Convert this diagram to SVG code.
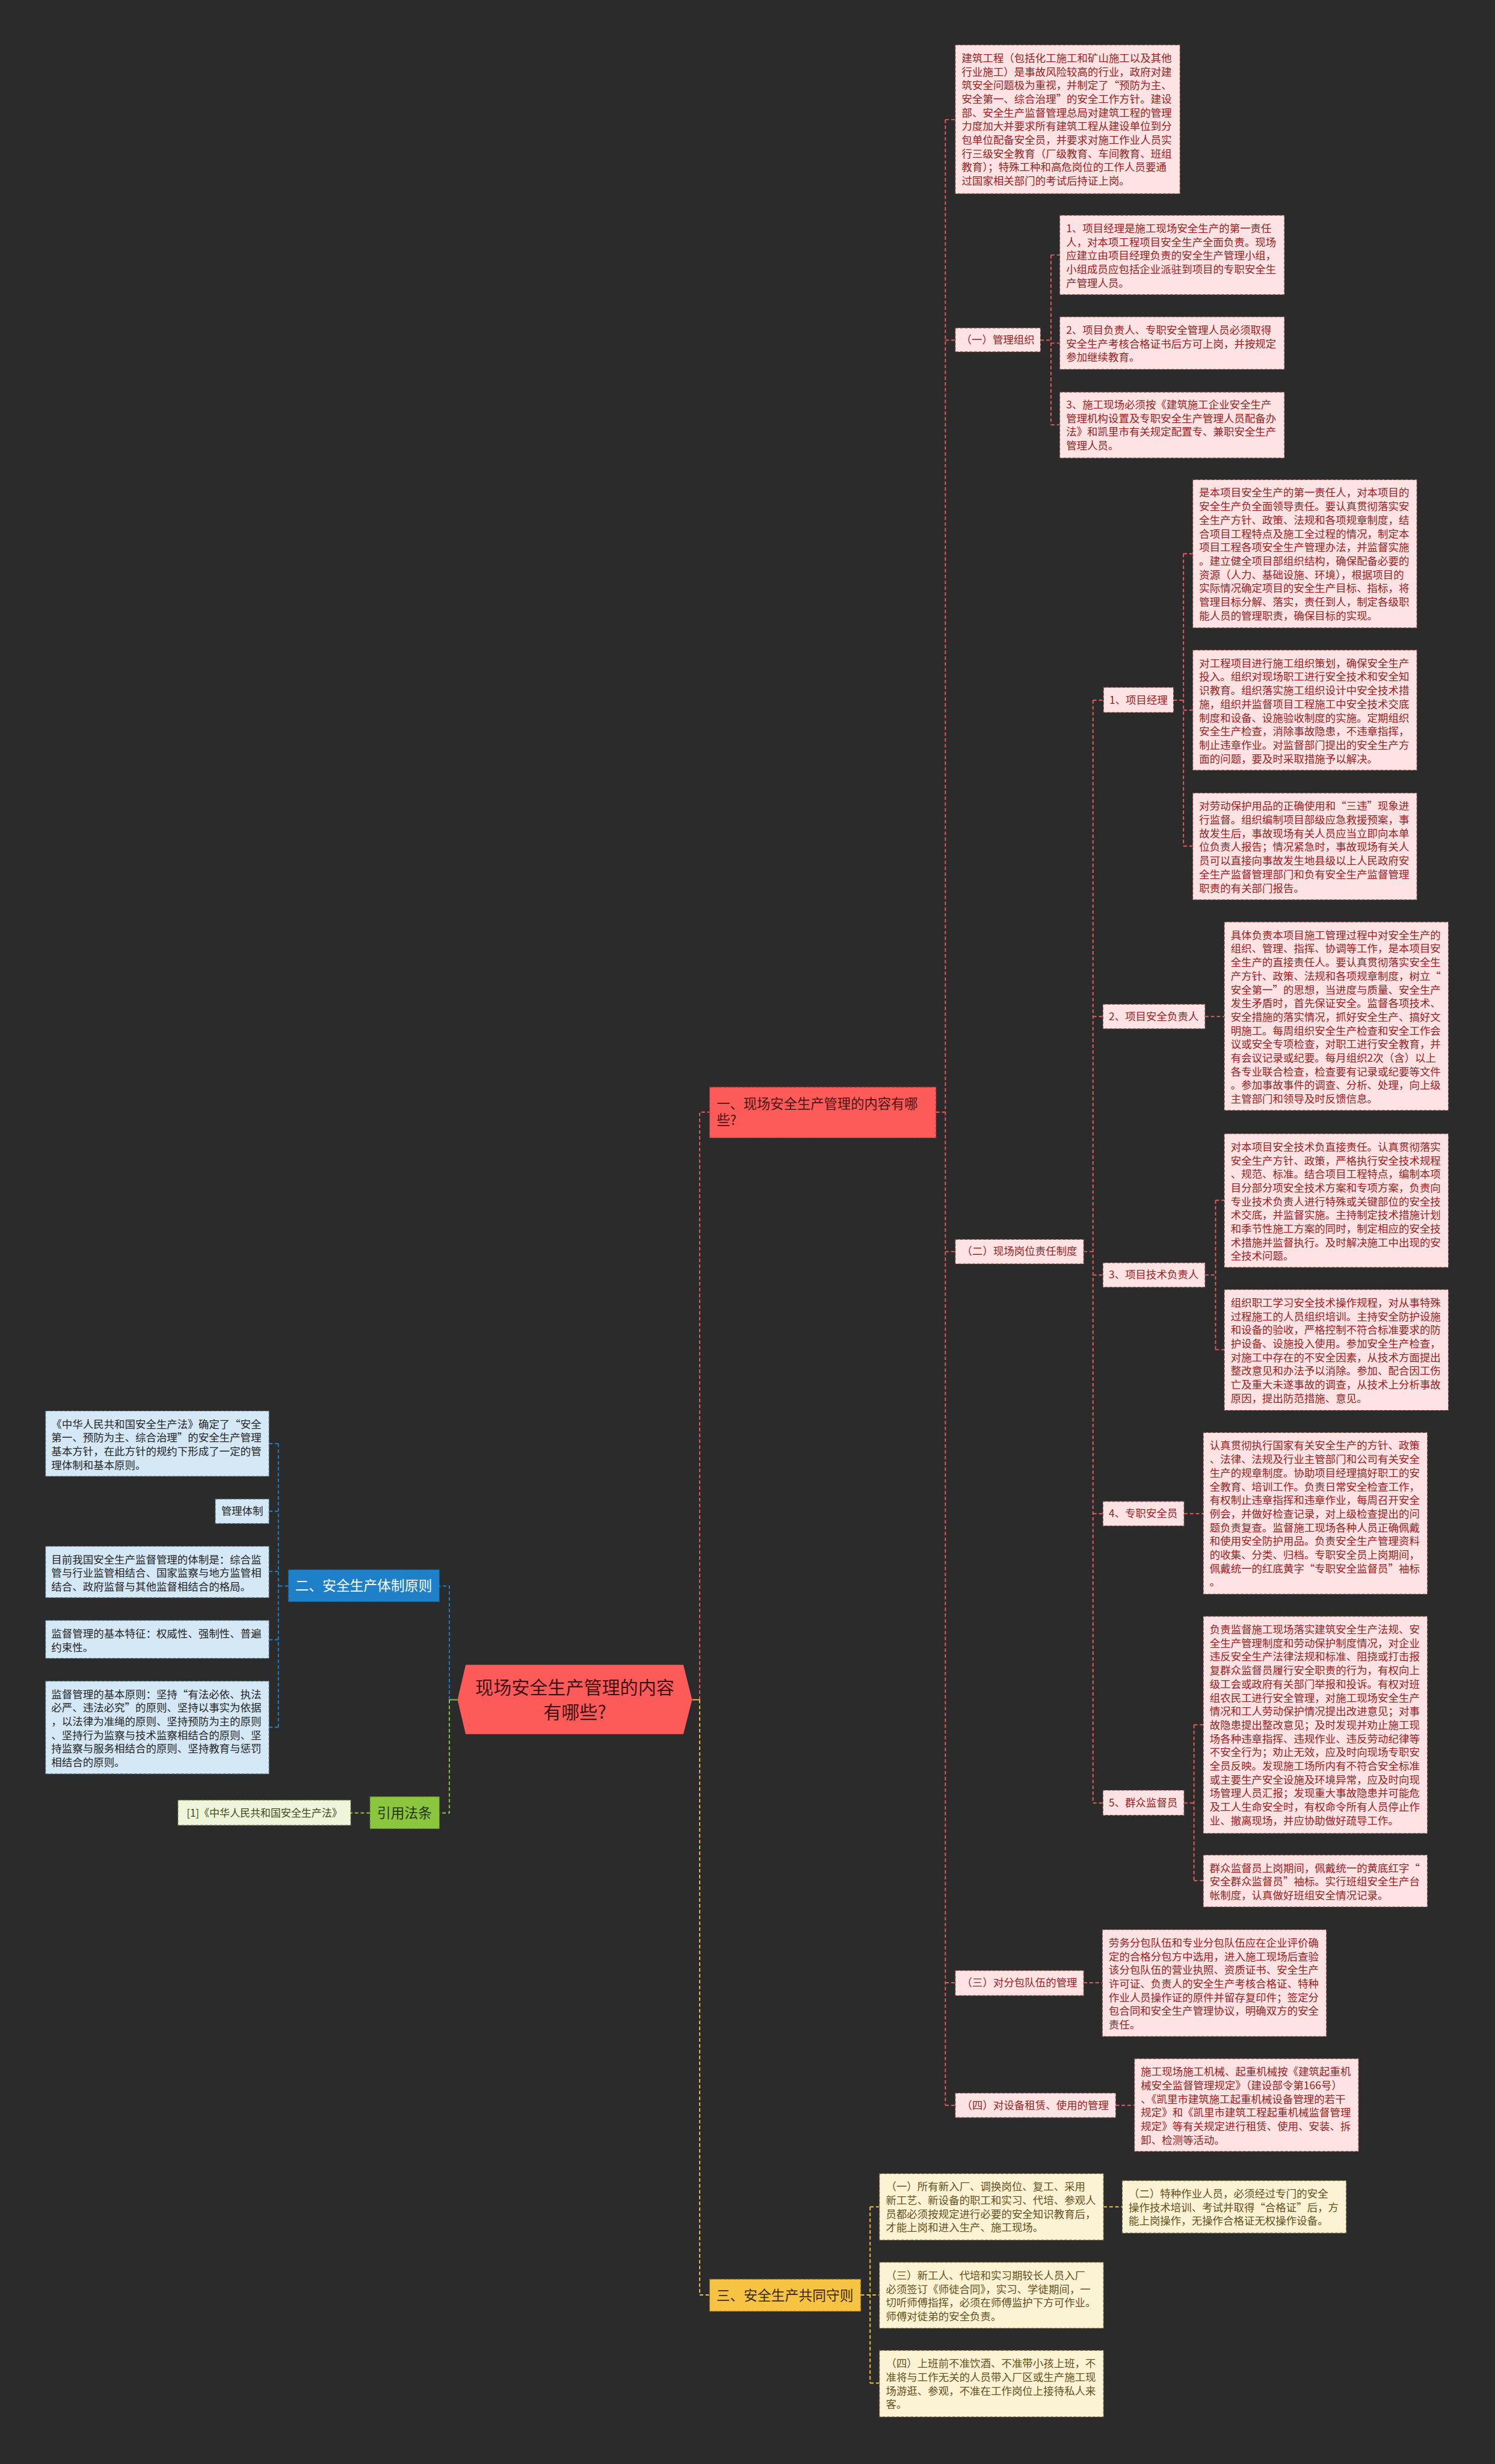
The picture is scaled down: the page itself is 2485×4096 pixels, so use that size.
<svg xmlns="http://www.w3.org/2000/svg" width="2485" height="4096" viewBox="0 0 2485 4096">
<style>
text{font-family:"Noto Sans CJK SC","Noto Sans",sans-serif;}
.lr{fill:#fde3e3;stroke:#7a4040;stroke-width:1.2;stroke-dasharray:5 3;}
.tr{fill:#9b2222;font-size:18px;}
.lb{fill:#d4e8f6;stroke:#4a6a8a;stroke-width:1.2;stroke-dasharray:5 3;}
.tb{fill:#252525;font-size:18px;}
.ly{fill:#fcf3d4;stroke:#6a5a30;stroke-width:1.2;stroke-dasharray:5 3;}
.ty{fill:#66501c;font-size:18px;}
.cr{fill:none;stroke:#e45c5c;stroke-width:2;stroke-dasharray:6 4;}
.cb{fill:none;stroke:#1e80c8;stroke-width:2;stroke-dasharray:6 4;}
.cg{fill:none;stroke:#8cc63e;stroke-width:2;stroke-dasharray:6 4;}
.cy{fill:none;stroke:#f2c140;stroke-width:2;stroke-dasharray:6 4;}
.mid{text-anchor:middle;}
</style>
<rect x="0" y="0" width="2485" height="4096" fill="#2b2b2b"/>
<g transform="scale(0.97)">
<g id="connectors">
<path class="cr" d="M1199 2913 V1906 H1216"/>
<path class="cr" d="M1604 1906 H1620"/>
<path class="cr" d="M1620 205 V3608"/>
<path class="cr" d="M1620 205 H1637 M1620 583 H1637 M1620 2145 H1637 M1620 3398 H1637 M1620 3608 H1637"/>
<path class="cr" d="M1783 583 H1801 M1801 437 V728 M1801 437 H1816 M1801 588 H1816 M1801 728 H1816"/>
<path class="cr" d="M1857 2145 H1873 M1873 1200 V3090 M1873 1200 H1891 M1873 1742 H1890 M1873 2185 H1890 M1873 2594 H1890 M1873 3090 H1890"/>
<path class="cr" d="M2011 1200 H2028 M2028 949 V1450 M2028 949 H2044 M2028 1217 H2044 M2028 1450 H2044"/>
<path class="cr" d="M2065 1742 H2098"/>
<path class="cr" d="M2065 2185 H2083 M2083 2057 V2313 M2083 2057 H2098 M2083 2313 H2098"/>
<path class="cr" d="M2029 2594 H2062"/>
<path class="cr" d="M2029 3090 H2046 M2046 2956 V3223 M2046 2956 H2062 M2046 3223 H2062"/>
<path class="cr" d="M1857 3398 H1889"/>
<path class="cr" d="M1912 3608 H1944"/>
<path fill="none" stroke="#f2c140" stroke-width="2" d="M1186 2913 H1199"/>
<path class="cy" d="M1199 2913 V3933 H1216"/>
<path class="cy" d="M1475 3933 H1507 M1491 3782 V4084 M1491 3782 H1507 M1491 4084 H1507 M1891 3782 H1923"/>
<path fill="none" stroke="#8cc63e" stroke-width="2" d="M770 2913 H784"/>
<path class="cb" d="M770 2913 V2718 H753"/>
<path class="cb" d="M494 2718 H477 M477 2474 V2960 M477 2474 H461 M477 2590 H461 M477 2693 H461 M477 2810 H461 M477 2960 H461"/>
<path class="cg" d="M770 2913 V3107 H753 M634 3107 H601"/>
</g>

<g id="root">
<polygon points="784,2913 798,2853 1171,2853 1186,2913 1171,2972 798,2972" fill="#fd5a5a"/>
<text class="mid" x="985" y="2903" font-size="31" fill="#3e1212">现场安全生产管理的内容</text>
<text class="mid" x="985" y="2945" font-size="31" fill="#3e1212">有哪些?</text>
</g>

<g id="b1">
<rect x="1216" y="1863" width="388" height="87" fill="#fd5a5a" stroke="#a83030" stroke-width="1.2" stroke-dasharray="5 3"/>
<text x="1228" y="1900" font-size="23" fill="#4a1414">一、现场安全生产管理的内容有哪</text>
<text x="1228" y="1928" font-size="23" fill="#4a1414">些?</text>
</g>

<g id="t0">
<rect class="lr" x="1637" y="77" width="385" height="255"/>
<text class="tr" x="1648" y="106"><tspan x="1648" dy="0">建筑工程（包括化工施工和矿山施工以及其他</tspan><tspan x="1648" dy="23.4">行业施工）是事故风险较高的行业，政府对建</tspan><tspan x="1648" dy="23.4">筑安全问题极为重视，并制定了“预防为主、</tspan><tspan x="1648" dy="23.4">安全第一、综合治理”的安全工作方针。建设</tspan><tspan x="1648" dy="23.4">部、安全生产监督管理总局对建筑工程的管理</tspan><tspan x="1648" dy="23.4">力度加大并要求所有建筑工程从建设单位到分</tspan><tspan x="1648" dy="23.4">包单位配备安全员，并要求对施工作业人员实</tspan><tspan x="1648" dy="23.4">行三级安全教育（厂级教育、车间教育、班组</tspan><tspan x="1648" dy="23.4">教育）；特殊工种和高危岗位的工作人员要通</tspan><tspan x="1648" dy="23.4">过国家相关部门的考试后持证上岗。</tspan></text>
</g>

<g id="n-guanli">
<rect class="lr" x="1637" y="562" width="146" height="41"/>
<text class="tr mid" x="1710" y="589">（一）管理组织</text>
</g>
<g id="g1">
<rect class="lr" x="1816" y="369" width="385" height="136"/>
<text class="tr" x="1827" y="398"><tspan x="1827" dy="0">1、项目经理是施工现场安全生产的第一责任</tspan><tspan x="1827" dy="23.4">人，对本项工程项目安全生产全面负责。现场</tspan><tspan x="1827" dy="23.4">应建立由项目经理负责的安全生产管理小组，</tspan><tspan x="1827" dy="23.4">小组成员应包括企业派驻到项目的专职安全生</tspan><tspan x="1827" dy="23.4">产管理人员。</tspan></text>
</g>
<g id="g2">
<rect class="lr" x="1816" y="543" width="385" height="90"/>
<text class="tr" x="1827" y="572"><tspan x="1827" dy="0">2、项目负责人、专职安全管理人员必须取得</tspan><tspan x="1827" dy="23.4">安全生产考核合格证书后方可上岗，并按规定</tspan><tspan x="1827" dy="23.4">参加继续教育。</tspan></text>
</g>
<g id="g3">
<rect class="lr" x="1816" y="672" width="385" height="113"/>
<text class="tr" x="1827" y="700"><tspan x="1827" dy="0">3、施工现场必须按《建筑施工企业安全生产</tspan><tspan x="1827" dy="23.4">管理机构设置及专职安全生产管理人员配备办</tspan><tspan x="1827" dy="23.4">法》和凯里市有关规定配置专、兼职安全生产</tspan><tspan x="1827" dy="23.4">管理人员。</tspan></text>
</g>

<g id="n-gangwei">
<rect class="lr" x="1637" y="2124" width="220" height="42"/>
<text class="tr mid" x="1747" y="2151">（二）现场岗位责任制度</text>
</g>

<g id="n-pm">
<rect class="lr" x="1891" y="1178" width="120" height="43"/>
<text class="tr mid" x="1951" y="1206">1、项目经理</text>
</g>
<g id="pma">
<rect class="lr" x="2044" y="822" width="384" height="254"/>
<text class="tr" x="2055" y="851"><tspan x="2055" dy="0">是本项目安全生产的第一责任人，对本项目的</tspan><tspan x="2055" dy="23.4">安全生产负全面领导责任。要认真贯彻落实安</tspan><tspan x="2055" dy="23.4">全生产方针、政策、法规和各项规章制度，结</tspan><tspan x="2055" dy="23.4">合项目工程特点及施工全过程的情况，制定本</tspan><tspan x="2055" dy="23.4">项目工程各项安全生产管理办法，并监督实施</tspan><tspan x="2055" dy="23.4">。建立健全项目部组织结构，确保配备必要的</tspan><tspan x="2055" dy="23.4">资源（人力、基础设施、环境），根据项目的</tspan><tspan x="2055" dy="23.4">实际情况确定项目的安全生产目标、指标，将</tspan><tspan x="2055" dy="23.4">管理目标分解、落实，责任到人，制定各级职</tspan><tspan x="2055" dy="23.4">能人员的管理职责，确保目标的实现。</tspan></text>
</g>
<g id="pmb">
<rect class="lr" x="2044" y="1114" width="384" height="206"/>
<text class="tr" x="2055" y="1143"><tspan x="2055" dy="0">对工程项目进行施工组织策划，确保安全生产</tspan><tspan x="2055" dy="23.4">投入。组织对现场职工进行安全技术和安全知</tspan><tspan x="2055" dy="23.4">识教育。组织落实施工组织设计中安全技术措</tspan><tspan x="2055" dy="23.4">施，组织并监督项目工程施工中安全技术交底</tspan><tspan x="2055" dy="23.4">制度和设备、设施验收制度的实施。定期组织</tspan><tspan x="2055" dy="23.4">安全生产检查，消除事故隐患，不违章指挥，</tspan><tspan x="2055" dy="23.4">制止违章作业。对监督部门提出的安全生产方</tspan><tspan x="2055" dy="23.4">面的问题，要及时采取措施予以解决。</tspan></text>
</g>
<g id="pmc">
<rect class="lr" x="2044" y="1359" width="384" height="183"/>
<text class="tr" x="2055" y="1388"><tspan x="2055" dy="0">对劳动保护用品的正确使用和“三违”现象进</tspan><tspan x="2055" dy="23.4">行监督。组织编制项目部级应急救援预案，事</tspan><tspan x="2055" dy="23.4">故发生后，事故现场有关人员应当立即向本单</tspan><tspan x="2055" dy="23.4">位负责人报告；情况紧急时，事故现场有关人</tspan><tspan x="2055" dy="23.4">员可以直接向事故发生地县级以上人民政府安</tspan><tspan x="2055" dy="23.4">全生产监督管理部门和负有安全生产监督管理</tspan><tspan x="2055" dy="23.4">职责的有关部门报告。</tspan></text>
</g>

<g id="n-safe">
<rect class="lr" x="1890" y="1721" width="175" height="42"/>
<text class="tr mid" x="1977" y="1748">2、项目安全负责人</text>
</g>
<g id="sa">
<rect class="lr" x="2098" y="1580" width="384" height="323"/>
<text class="tr" x="2109" y="1609"><tspan x="2109" dy="0">具体负责本项目施工管理过程中对安全生产的</tspan><tspan x="2109" dy="23.4">组织、管理、指挥、协调等工作，是本项目安</tspan><tspan x="2109" dy="23.4">全生产的直接责任人。要认真贯彻落实安全生</tspan><tspan x="2109" dy="23.4">产方针、政策、法规和各项规章制度，树立“</tspan><tspan x="2109" dy="23.4">安全第一”的思想，当进度与质量、安全生产</tspan><tspan x="2109" dy="23.4">发生矛盾时，首先保证安全。监督各项技术、</tspan><tspan x="2109" dy="23.4">安全措施的落实情况，抓好安全生产、搞好文</tspan><tspan x="2109" dy="23.4">明施工。每周组织安全生产检查和安全工作会</tspan><tspan x="2109" dy="23.4">议或安全专项检查，对职工进行安全教育，并</tspan><tspan x="2109" dy="23.4">有会议记录或纪要。每月组织2次（含）以上</tspan><tspan x="2109" dy="23.4">各专业联合检查，检查要有记录或纪要等文件</tspan><tspan x="2109" dy="23.4">。参加事故事件的调查、分析、处理，向上级</tspan><tspan x="2109" dy="23.4">主管部门和领导及时反馈信息。</tspan></text>
</g>

<g id="n-tech">
<rect class="lr" x="1890" y="2164" width="175" height="42"/>
<text class="tr mid" x="1977" y="2191">3、项目技术负责人</text>
</g>
<g id="ta">
<rect class="lr" x="2098" y="1943" width="384" height="229"/>
<text class="tr" x="2109" y="1972"><tspan x="2109" dy="0">对本项目安全技术负直接责任。认真贯彻落实</tspan><tspan x="2109" dy="23.4">安全生产方针、政策，严格执行安全技术规程</tspan><tspan x="2109" dy="23.4">、规范、标准。结合项目工程特点，编制本项</tspan><tspan x="2109" dy="23.4">目分部分项安全技术方案和专项方案，负责向</tspan><tspan x="2109" dy="23.4">专业技术负责人进行特殊或关键部位的安全技</tspan><tspan x="2109" dy="23.4">术交底，并监督实施。主持制定技术措施计划</tspan><tspan x="2109" dy="23.4">和季节性施工方案的同时，制定相应的安全技</tspan><tspan x="2109" dy="23.4">术措施并监督执行。及时解决施工中出现的安</tspan><tspan x="2109" dy="23.4">全技术问题。</tspan></text>
</g>
<g id="tb">
<rect class="lr" x="2098" y="2210" width="384" height="207"/>
<text class="tr" x="2109" y="2239"><tspan x="2109" dy="0">组织职工学习安全技术操作规程，对从事特殊</tspan><tspan x="2109" dy="23.4">过程施工的人员组织培训。主持安全防护设施</tspan><tspan x="2109" dy="23.4">和设备的验收，严格控制不符合标准要求的防</tspan><tspan x="2109" dy="23.4">护设备、设施投入使用。参加安全生产检查，</tspan><tspan x="2109" dy="23.4">对施工中存在的不安全因素，从技术方面提出</tspan><tspan x="2109" dy="23.4">整改意见和办法予以消除。参加、配合因工伤</tspan><tspan x="2109" dy="23.4">亡及重大未遂事故的调查，从技术上分析事故</tspan><tspan x="2109" dy="23.4">原因，提出防范措施、意见。</tspan></text>
</g>

<g id="n-zhuanzhi">
<rect class="lr" x="1890" y="2573" width="139" height="42"/>
<text class="tr mid" x="1959" y="2600">4、专职安全员</text>
</g>
<g id="za">
<rect class="lr" x="2062" y="2455" width="384" height="277"/>
<text class="tr" x="2073" y="2484"><tspan x="2073" dy="0">认真贯彻执行国家有关安全生产的方针、政策</tspan><tspan x="2073" dy="23.4">、法律、法规及行业主管部门和公司有关安全</tspan><tspan x="2073" dy="23.4">生产的规章制度。协助项目经理搞好职工的安</tspan><tspan x="2073" dy="23.4">全教育、培训工作。负责日常安全检查工作，</tspan><tspan x="2073" dy="23.4">有权制止违章指挥和违章作业，每周召开安全</tspan><tspan x="2073" dy="23.4">例会，并做好检查记录，对上级检查提出的问</tspan><tspan x="2073" dy="23.4">题负责复查。监督施工现场各种人员正确佩戴</tspan><tspan x="2073" dy="23.4">和使用安全防护用品。负责安全生产管理资料</tspan><tspan x="2073" dy="23.4">的收集、分类、归档。专职安全员上岗期间，</tspan><tspan x="2073" dy="23.4">佩戴统一的红底黄字“专职安全监督员”袖标</tspan><tspan x="2073" dy="23.4">。</tspan></text>
</g>

<g id="n-qunzhong">
<rect class="lr" x="1890" y="3068" width="139" height="43"/>
<text class="tr mid" x="1959" y="3096">5、群众监督员</text>
</g>
<g id="qa">
<rect class="lr" x="2062" y="2770" width="384" height="372"/>
<text class="tr" x="2073" y="2799"><tspan x="2073" dy="0">负责监督施工现场落实建筑安全生产法规、安</tspan><tspan x="2073" dy="23.4">全生产管理制度和劳动保护制度情况，对企业</tspan><tspan x="2073" dy="23.4">违反安全生产法律法规和标准、阻挠或打击报</tspan><tspan x="2073" dy="23.4">复群众监督员履行安全职责的行为，有权向上</tspan><tspan x="2073" dy="23.4">级工会或政府有关部门举报和投诉。有权对班</tspan><tspan x="2073" dy="23.4">组农民工进行安全管理，对施工现场安全生产</tspan><tspan x="2073" dy="23.4">情况和工人劳动保护情况提出改进意见；对事</tspan><tspan x="2073" dy="23.4">故隐患提出整改意见；及时发现并劝止施工现</tspan><tspan x="2073" dy="23.4">场各种违章指挥、违规作业、违反劳动纪律等</tspan><tspan x="2073" dy="23.4">不安全行为；劝止无效，应及时向现场专职安</tspan><tspan x="2073" dy="23.4">全员反映。发现施工场所内有不符合安全标准</tspan><tspan x="2073" dy="23.4">或主要生产安全设施及环境异常，应及时向现</tspan><tspan x="2073" dy="23.4">场管理人员汇报；发现重大事故隐患并可能危</tspan><tspan x="2073" dy="23.4">及工人生命安全时，有权命令所有人员停止作</tspan><tspan x="2073" dy="23.4">业、撤离现场，并应协助做好疏导工作。</tspan></text>
</g>
<g id="qb">
<rect class="lr" x="2062" y="3179" width="384" height="89"/>
<text class="tr" x="2073" y="3208"><tspan x="2073" dy="0">群众监督员上岗期间，佩戴统一的黄底红字“</tspan><tspan x="2073" dy="23.4">安全群众监督员”袖标。实行班组安全生产台</tspan><tspan x="2073" dy="23.4">帐制度，认真做好班组安全情况记录。</tspan></text>
</g>

<g id="n-fenbao">
<rect class="lr" x="1637" y="3377" width="220" height="43"/>
<text class="tr mid" x="1747" y="3404">（三）对分包队伍的管理</text>
</g>
<g id="fb">
<rect class="lr" x="1889" y="3307" width="384" height="183"/>
<text class="tr" x="1900" y="3336"><tspan x="1900" dy="0">劳务分包队伍和专业分包队伍应在企业评价确</tspan><tspan x="1900" dy="23.4">定的合格分包方中选用，进入施工现场后查验</tspan><tspan x="1900" dy="23.4">该分包队伍的营业执照、资质证书、安全生产</tspan><tspan x="1900" dy="23.4">许可证、负责人的安全生产考核合格证、特种</tspan><tspan x="1900" dy="23.4">作业人员操作证的原件并留存复印件；签定分</tspan><tspan x="1900" dy="23.4">包合同和安全生产管理协议，明确双方的安全</tspan><tspan x="1900" dy="23.4">责任。</tspan></text>
</g>

<g id="n-shebei">
<rect class="lr" x="1637" y="3587" width="275" height="42"/>
<text class="tr mid" x="1774" y="3614">（四）对设备租赁、使用的管理</text>
</g>
<g id="sb">
<rect class="lr" x="1944" y="3528" width="384" height="159"/>
<text class="tr" x="1955" y="3557"><tspan x="1955" dy="0">施工现场施工机械、起重机械按《建筑起重机</tspan><tspan x="1955" dy="23.4">械安全监督管理规定》（建设部令第166号）</tspan><tspan x="1955" dy="23.4">、《凯里市建筑施工起重机械设备管理的若干</tspan><tspan x="1955" dy="23.4">规定》和《凯里市建筑工程起重机械监督管理</tspan><tspan x="1955" dy="23.4">规定》等有关规定进行租赁、使用、安装、拆</tspan><tspan x="1955" dy="23.4">卸、检测等活动。</tspan></text>
</g>

<g id="b3">
<rect x="1216" y="3906" width="259" height="55" fill="#f7c343" stroke="#8a6a20" stroke-width="1.2" stroke-dasharray="5 3"/>
<text class="mid" x="1345" y="3942" font-size="23.5" fill="#3a2a05">三、安全生产共同守则</text>
</g>
<g id="y1">
<rect class="ly" x="1507" y="3725" width="384" height="114"/>
<text class="ty" x="1518" y="3754"><tspan x="1518" dy="0">（一）所有新入厂、调换岗位、复工、采用</tspan><tspan x="1518" dy="23.4">新工艺、新设备的职工和实习、代培、参观人</tspan><tspan x="1518" dy="23.4">员都必须按规定进行必要的安全知识教育后，</tspan><tspan x="1518" dy="23.4">才能上岗和进入生产、施工现场。</tspan></text>
</g>
<g id="y2">
<rect class="ly" x="1923" y="3737" width="384" height="90"/>
<text class="ty" x="1934" y="3766"><tspan x="1934" dy="0">（二）特种作业人员，必须经过专门的安全</tspan><tspan x="1934" dy="23.4">操作技术培训、考试并取得“合格证”后，方</tspan><tspan x="1934" dy="23.4">能上岗操作，无操作合格证无权操作设备。</tspan></text>
</g>
<g id="y3">
<rect class="ly" x="1507" y="3877" width="384" height="113"/>
<text class="ty" x="1518" y="3906"><tspan x="1518" dy="0">（三）新工人、代培和实习期较长人员入厂</tspan><tspan x="1518" dy="23.4">必须签订《师徒合同》，实习、学徒期间，一</tspan><tspan x="1518" dy="23.4">切听师傅指挥，必须在师傅监护下方可作业。</tspan><tspan x="1518" dy="23.4">师傅对徒弟的安全负责。</tspan></text>
</g>
<g id="y4">
<rect class="ly" x="1507" y="4028" width="384" height="114"/>
<text class="ty" x="1518" y="4057"><tspan x="1518" dy="0">（四）上班前不准饮酒、不准带小孩上班，不</tspan><tspan x="1518" dy="23.4">准将与工作无关的人员带入厂区或生产施工现</tspan><tspan x="1518" dy="23.4">场游逛、参观，不准在工作岗位上接待私人来</tspan><tspan x="1518" dy="23.4">客。</tspan></text>
</g>

<g id="b2">
<rect x="494" y="2690" width="259" height="55" fill="#1e80c8" stroke="#0e5a90" stroke-width="1.2" stroke-dasharray="5 3"/>
<text class="mid" x="623" y="2726" font-size="23.5" fill="#ffffff">二、安全生产体制原则</text>
</g>
<g id="ba">
<rect class="lb" x="78" y="2418" width="383" height="112"/>
<text class="tb" x="88" y="2447"><tspan x="88" dy="0">《中华人民共和国安全生产法》确定了“安全</tspan><tspan x="88" dy="23.4">第一、预防为主、综合治理”的安全生产管理</tspan><tspan x="88" dy="23.4">基本方针，在此方针的规约下形成了一定的管</tspan><tspan x="88" dy="23.4">理体制和基本原则。</tspan></text>
</g>
<g id="bb">
<rect class="lb" x="369" y="2569" width="92" height="42"/>
<text class="tb mid" x="415" y="2596">管理体制</text>
</g>
<g id="bc">
<rect class="lb" x="78" y="2650" width="383" height="88"/>
<text class="tb" x="88" y="2679"><tspan x="88" dy="0">目前我国安全生产监督管理的体制是：综合监</tspan><tspan x="88" dy="23.4">管与行业监管相结合、国家监察与地方监管相</tspan><tspan x="88" dy="23.4">结合、政府监督与其他监督相结合的格局。</tspan></text>
</g>
<g id="bd">
<rect class="lb" x="78" y="2777" width="383" height="65"/>
<text class="tb" x="88" y="2806"><tspan x="88" dy="0">监督管理的基本特征：权威性、强制性、普遍</tspan><tspan x="88" dy="23.4">约束性。</tspan></text>
</g>
<g id="be">
<rect class="lb" x="78" y="2881" width="383" height="159"/>
<text class="tb" x="88" y="2910"><tspan x="88" dy="0">监督管理的基本原则：坚持“有法必依、执法</tspan><tspan x="88" dy="23.4">必严、违法必究”的原则、坚持以事实为依据</tspan><tspan x="88" dy="23.4">，以法律为准绳的原则、坚持预防为主的原则</tspan><tspan x="88" dy="23.4">、坚持行为监察与技术监察相结合的原则、坚</tspan><tspan x="88" dy="23.4">持监察与服务相结合的原则、坚持教育与惩罚</tspan><tspan x="88" dy="23.4">相结合的原则。</tspan></text>
</g>

<g id="b4">
<rect x="634" y="3079" width="119" height="55" fill="#8cc63e" stroke="#4a7a1a" stroke-width="1.2" stroke-dasharray="5 3"/>
<text class="mid" x="693" y="3115" font-size="23.5" fill="#23330c">引用法条</text>
</g>
<g id="ref1">
<rect x="305" y="3085" width="296" height="43" fill="#eef5da" stroke="#6a7a40" stroke-width="1.2" stroke-dasharray="5 3"/>
<text class="mid" x="453" y="3113" font-size="17.5" fill="#3a4a1a">[1]《中华人民共和国安全生产法》</text>
</g>
</g>
</svg>
